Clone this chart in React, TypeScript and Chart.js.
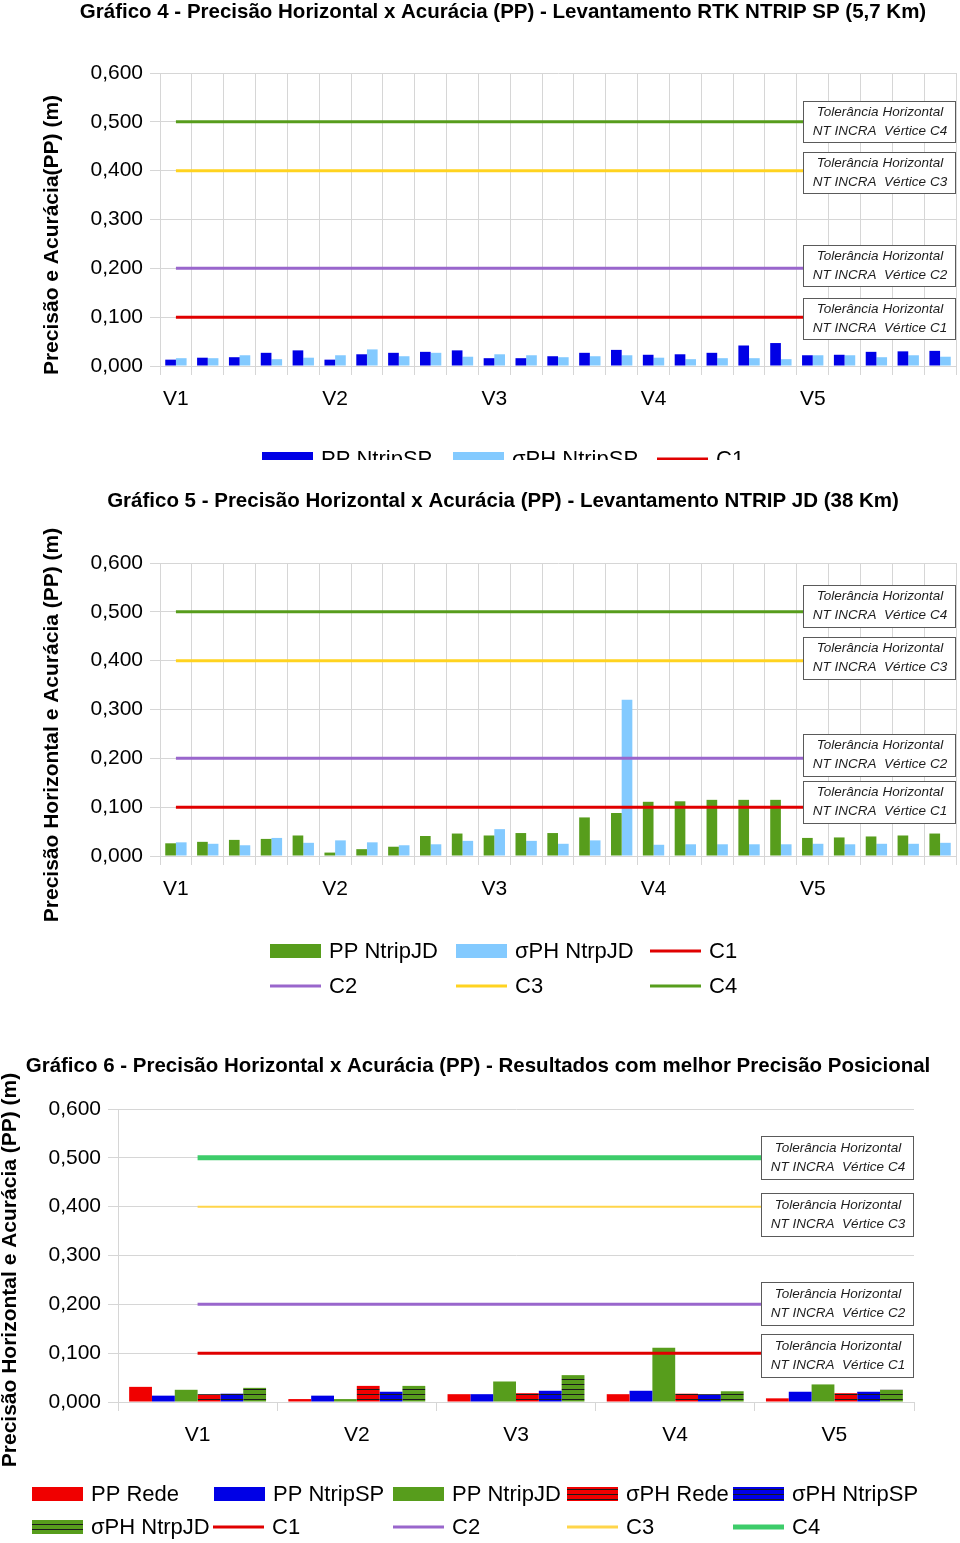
import React, { useEffect, useRef } from 'react';
import { Chart, registerables } from 'chart.js';

Chart.register(...registerables);

const FONT = '"Liberation Sans", Arial, Helvetica, sans-serif';
Chart.defaults.font.family = FONT;

// ---------- DATA ----------
const categories25 = [
  'V1', '', '', '', '',
  'V2', '', '', '', '',
  'V3', '', '', '', '',
  'V4', '', '', '', '',
  'V5', '', '', '', '',
];

// Gráfico 4 - RTK NTRIP SP
const ppNtripSP4 = [0.013, 0.017, 0.018, 0.027, 0.032, 0.013, 0.024, 0.027, 0.029, 0.032, 0.016, 0.016, 0.020, 0.027, 0.033, 0.023, 0.024, 0.027, 0.042, 0.047, 0.022, 0.023, 0.029, 0.030, 0.031];
const sigmaNtripSP4 = [0.016, 0.016, 0.022, 0.014, 0.017, 0.022, 0.034, 0.020, 0.027, 0.019, 0.024, 0.022, 0.018, 0.020, 0.022, 0.017, 0.014, 0.016, 0.016, 0.014, 0.022, 0.022, 0.018, 0.022, 0.019];

// Gráfico 5 - NTRIP JD
const ppNtripJD5 = [0.026, 0.029, 0.033, 0.035, 0.042, 0.007, 0.014, 0.019, 0.041, 0.046, 0.042, 0.047, 0.047, 0.079, 0.088, 0.111, 0.112, 0.115, 0.115, 0.115, 0.037, 0.038, 0.040, 0.042, 0.046];
const sigmaNtripJD5 = [0.028, 0.025, 0.022, 0.037, 0.027, 0.032, 0.028, 0.022, 0.024, 0.031, 0.055, 0.031, 0.025, 0.032, 0.320, 0.023, 0.024, 0.024, 0.024, 0.024, 0.025, 0.024, 0.025, 0.025, 0.027];

// Gráfico 6 - melhores resultados
const vertices = ['V1', 'V2', 'V3', 'V4', 'V5'];
const ppRede6 = [0.031, 0.006, 0.016, 0.016, 0.0075];
const ppNtripSP6 = [0.013, 0.013, 0.016, 0.023, 0.021];
const ppNtripJD6 = [0.025, 0.006, 0.042, 0.111, 0.036];
const sigmaRede6 = [0.016, 0.033, 0.018, 0.017, 0.018];
const sigmaNtripSP6 = [0.017, 0.021, 0.023, 0.016, 0.021];
const sigmaNtripJD6 = [0.029, 0.033, 0.055, 0.022, 0.025];

// Tolerâncias horizontais NT INCRA (m)
const toleranceC1 = 0.1;
const toleranceC2 = 0.2;
const toleranceC3 = 0.4;
const toleranceC4 = 0.5;

const yTicksMin = 0;
const yTicksMax = 0.6;
const yTicksStep = 0.1;

// ---------- STYLE ----------
const RED = '#f00000';
const BLUE = '#0000e6';
const LIGHTBLUE = '#83caff';
const GREEN = '#579d1c';
const PURPLE = '#9966cc';
const YELLOW = '#ffd320';
const LINE_RED = '#e00000';
const GRID = '#d6d6d6';

function stripes(color: string): CanvasPattern | string {
  const c = document.createElement('canvas');
  c.width = 8;
  c.height = 5;
  const g = c.getContext('2d');
  if (!g) return color;
  g.fillStyle = color;
  g.fillRect(0, 0, 8, 5);
  g.fillStyle = '#1a1a1a';
  g.fillRect(0, 4, 8, 1);
  return g.createPattern(c, 'repeat') || color;
}

type BoxSpec = { name: string; value: number; dy: number };
type Spec = {
  title: string;
  titleX: number;
  titleY: number;
  titleSize: number;
  yTitle: string;
  yTitleX: number;
  yTitleY: number;
  boxX: number;
  boxW: number;
  boxH: number;
  boxes: BoxSpec[];
  legend: { x: number; y: number }[];
};

function decorPlugin(spec: Spec) {
  return {
    id: 'decor',
    afterDatasetsDraw(chart: any) {
      const ctx: CanvasRenderingContext2D = chart.ctx;
      const ys = chart.scales.y;
      ctx.save();
      // tolerance boxes
      spec.boxes.forEach((b) => {
        const cy = ys.getPixelForValue(b.value) + b.dy;
        const top = Math.round(cy - spec.boxH / 2);
        ctx.fillStyle = '#ffffff';
        ctx.fillRect(spec.boxX, top, spec.boxW, spec.boxH);
        ctx.strokeStyle = '#5a5a5a';
        ctx.lineWidth = 1;
        ctx.strokeRect(spec.boxX + 0.5, top + 0.5, spec.boxW, spec.boxH);
        ctx.fillStyle = '#1e1e1e';
        ctx.font = `italic 13.5px ${FONT}`;
        ctx.textAlign = 'center';
        ctx.textBaseline = 'middle';
        const cx = spec.boxX + spec.boxW / 2 + 1;
        ctx.fillText('Tolerância Horizontal', cx, top + spec.boxH / 2 - 9.5);
        ctx.fillText(`NT INCRA  Vértice ${b.name}`, cx, top + spec.boxH / 2 + 9.5);
      });
      ctx.restore();
    },
    afterDraw(chart: any) {
      const ctx: CanvasRenderingContext2D = chart.ctx;
      ctx.save();
      // title
      ctx.fillStyle = '#000';
      ctx.font = `bold ${spec.titleSize}px ${FONT}`;
      ctx.textAlign = 'center';
      ctx.textBaseline = 'middle';
      ctx.fillText(spec.title, spec.titleX, spec.titleY);
      // y title
      ctx.save();
      ctx.translate(spec.yTitleX, spec.yTitleY);
      ctx.rotate(-Math.PI / 2);
      ctx.font = `bold 21px ${FONT}`;
      ctx.fillText(spec.yTitle, 0, 0);
      ctx.restore();
      // legend
      const dsets = chart.data.datasets;
      dsets.forEach((ds: any, i: number) => {
        const pos = spec.legend[i];
        if (!pos) return;
        const w = 51;
        if (ds.type === 'line') {
          ctx.strokeStyle = ds.borderColor;
          ctx.lineWidth = Math.max(3, ds.borderWidth);
          ctx.beginPath();
          ctx.moveTo(pos.x, pos.y);
          ctx.lineTo(pos.x + w, pos.y);
          ctx.stroke();
        } else {
          ctx.fillStyle = ds.backgroundColor;
          ctx.fillRect(pos.x, pos.y - 7, w, 14);
        }
        ctx.fillStyle = '#000';
        ctx.font = `22px ${FONT}`;
        ctx.textAlign = 'left';
        ctx.textBaseline = 'middle';
        ctx.fillText(ds.label, pos.x + 59, pos.y + 1);
      });
      ctx.restore();
    },
  };
}

function lineDs(label: string, labels: string[], value: number, color: string, width: number) {
  return {
    type: 'line' as const,
    label,
    data: labels.map(() => value),
    borderColor: color,
    backgroundColor: color,
    borderWidth: width,
    pointRadius: 0,
    pointHoverRadius: 0,
    fill: false,
    tension: 0,
    order: 0,
  };
}

function barDs(label: string, data: number[], color: any, catPct: number) {
  return {
    type: 'bar' as const,
    label,
    data,
    backgroundColor: color,
    borderWidth: 0,
    categoryPercentage: catPct,
    barPercentage: 1,
    order: 1,
  };
}

function baseOptions(p: {
  padding: { left: number; right: number; top: number; bottom: number };
  yWidth: number;
  xHeight: number;
  xGridInside: boolean;
}) {
  return {
    responsive: false,
    maintainAspectRatio: false,
    animation: false as const,
    layout: { padding: p.padding },
    plugins: {
      legend: { display: false },
      tooltip: { enabled: false },
      title: { display: false },
    },
    scales: {
      x: {
        type: 'category' as const,
        offset: true,
        grid: {
          display: true,
          offset: true,
          color: GRID,
          drawOnChartArea: p.xGridInside,
          drawTicks: true,
          tickLength: 9,
        },
        border: { color: GRID },
        ticks: {
          autoSkip: false,
          maxRotation: 0,
          minRotation: 0,
          color: '#000',
          font: { size: 21 },
          padding: 12,
        },
        afterFit: (s: any) => {
          s.height = p.xHeight;
        },
      },
      y: {
        type: 'linear' as const,
        min: yTicksMin,
        max: yTicksMax,
        grid: { color: GRID, tickLength: 10 },
        border: { color: GRID },
        ticks: {
          stepSize: yTicksStep,
          color: '#000',
          font: { size: 21 },
          padding: 7,
          callback: (v: any) => Number(v).toFixed(3).replace('.', ','),
        },
        afterFit: (s: any) => {
          s.width = p.yWidth;
        },
      },
    },
  };
}

function config4(): any {
  return {
    type: 'bar',
    data: {
      labels: categories25,
      datasets: [
        barDs('PP NtripSP', ppNtripSP4, BLUE, 0.67),
        barDs('σPH NtripSP', sigmaNtripSP4, LIGHTBLUE, 0.67),
        lineDs('C1', categories25, toleranceC1, LINE_RED, 3),
        lineDs('C2', categories25, toleranceC2, PURPLE, 3),
        lineDs('C3', categories25, toleranceC3, YELLOW, 3),
        lineDs('C4', categories25, toleranceC4, GREEN, 3),
      ],
    },
    options: baseOptions({
      padding: { left: 80, right: 4, top: 73, bottom: 114 },
      yWidth: 80,
      xHeight: 50,
      xGridInside: true,
    }),
    plugins: [
      decorPlugin({
        title: 'Gráfico 4 - Precisão Horizontal x Acurácia (PP) - Levantamento RTK NTRIP SP (5,7 Km)',
        titleX: 503,
        titleY: 12,
        titleSize: 20.5,
        yTitle: 'Precisão e Acurácia(PP) (m)',
        yTitleX: 52,
        yTitleY: 235,
        boxX: 803,
        boxW: 152,
        boxH: 41,
        boxes: [
          { name: 'C4', value: toleranceC4, dy: 0 },
          { name: 'C3', value: toleranceC3, dy: 2 },
          { name: 'C2', value: toleranceC2, dy: -3 },
          { name: 'C1', value: toleranceC1, dy: 1 },
        ],
        legend: [
          { x: 262, y: 459 },
          { x: 453, y: 459 },
          { x: 657, y: 459 },
          { x: 262, y: 494 },
          { x: 453, y: 494 },
          { x: 657, y: 494 },
        ],
      }),
    ],
  };
}

function config5(): any {
  return {
    type: 'bar',
    data: {
      labels: categories25,
      datasets: [
        barDs('PP NtripJD', ppNtripJD5, GREEN, 0.67),
        barDs('σPH NtrpJD', sigmaNtripJD5, LIGHTBLUE, 0.67),
        lineDs('C1', categories25, toleranceC1, LINE_RED, 3),
        lineDs('C2', categories25, toleranceC2, PURPLE, 3),
        lineDs('C3', categories25, toleranceC3, YELLOW, 3),
        lineDs('C4', categories25, toleranceC4, GREEN, 3),
      ],
    },
    options: baseOptions({
      padding: { left: 80, right: 4, top: 73, bottom: 114 },
      yWidth: 80,
      xHeight: 50,
      xGridInside: true,
    }),
    plugins: [
      decorPlugin({
        title: 'Gráfico 5 - Precisão Horizontal x Acurácia (PP) - Levantamento NTRIP JD (38 Km)',
        titleX: 503,
        titleY: 11,
        titleSize: 20.5,
        yTitle: 'Precisão Horizontal e Acurácia (PP) (m)',
        yTitleX: 52,
        yTitleY: 235,
        boxX: 803,
        boxW: 152,
        boxH: 42,
        boxes: [
          { name: 'C4', value: toleranceC4, dy: -6 },
          { name: 'C3', value: toleranceC3, dy: -3 },
          { name: 'C2', value: toleranceC2, dy: -3 },
          { name: 'C1', value: toleranceC1, dy: -5 },
        ],
        legend: [
          { x: 270, y: 461 },
          { x: 456, y: 461 },
          { x: 650, y: 461 },
          { x: 270, y: 496 },
          { x: 456, y: 496 },
          { x: 650, y: 496 },
        ],
      }),
    ],
  };
}

function config6(): any {
  const c = 0.86;
  return {
    type: 'bar',
    data: {
      labels: vertices,
      datasets: [
        barDs('PP Rede', ppRede6, RED, c),
        barDs('PP NtripSP', ppNtripSP6, BLUE, c),
        barDs('PP NtripJD', ppNtripJD6, GREEN, c),
        barDs('σPH Rede', sigmaRede6, stripes(RED), c),
        barDs('σPH NtripSP', sigmaNtripSP6, stripes(BLUE), c),
        barDs('σPH NtrpJD', sigmaNtripJD6, stripes(GREEN), c),
        lineDs('C1', vertices, toleranceC1, LINE_RED, 3),
        lineDs('C2', vertices, toleranceC2, PURPLE, 3),
        lineDs('C3', vertices, toleranceC3, '#ffd54a', 2),
        lineDs('C4', vertices, toleranceC4, '#3dcc6a', 5),
      ],
    },
    options: baseOptions({
      padding: { left: 48, right: 46, top: 59, bottom: 91 },
      yWidth: 70,
      xHeight: 50,
      xGridInside: false,
    }),
    plugins: [
      decorPlugin({
        title: 'Gráfico 6 - Precisão Horizontal x Acurácia (PP) - Resultados com melhor Precisão Posicional',
        titleX: 478,
        titleY: 16,
        titleSize: 20.5,
        yTitle: 'Precisão Horizontal e Acurácia (PP) (m)',
        yTitleX: 10,
        yTitleY: 220,
        boxX: 761,
        boxW: 152,
        boxH: 43,
        boxes: [
          { name: 'C4', value: toleranceC4, dy: 0 },
          { name: 'C3', value: toleranceC3, dy: 8 },
          { name: 'C2', value: toleranceC2, dy: -1 },
          { name: 'C1', value: toleranceC1, dy: 2 },
        ],
        legend: [
          { x: 32, y: 444 },
          { x: 214, y: 444 },
          { x: 393, y: 444 },
          { x: 567, y: 444 },
          { x: 733, y: 444 },
          { x: 32, y: 477 },
          { x: 213, y: 477 },
          { x: 393, y: 477 },
          { x: 567, y: 477 },
          { x: 733, y: 477 },
        ],
      }),
    ],
  };
}

function ChartBox(props: { top: number; height: number; clip?: number; build: () => any }) {
  const ref = useRef<HTMLCanvasElement>(null);
  useEffect(() => {
    if (!ref.current) return;
    const chart = new Chart(ref.current, props.build());
    return () => chart.destroy();
  }, []);
  return (
    <div
      style={{
        position: 'absolute',
        left: 0,
        top: props.top,
        width: 960,
        height: props.clip ?? props.height,
        overflow: 'hidden',
      }}
    >
      <canvas ref={ref} width={960} height={props.height} style={{ width: 960, height: props.height, display: 'block' }} />
    </div>
  );
}

export default function App() {
  return (
    <div style={{ position: 'absolute', left: 0, top: 0, width: 960, height: 1543, background: '#fff', overflow: 'hidden' }}>
      <ChartBox top={0} height={530} clip={460} build={config4} />
      <ChartBox top={490} height={530} build={config5} />
      <ChartBox top={1050} height={493} build={config6} />
    </div>
  );
}
